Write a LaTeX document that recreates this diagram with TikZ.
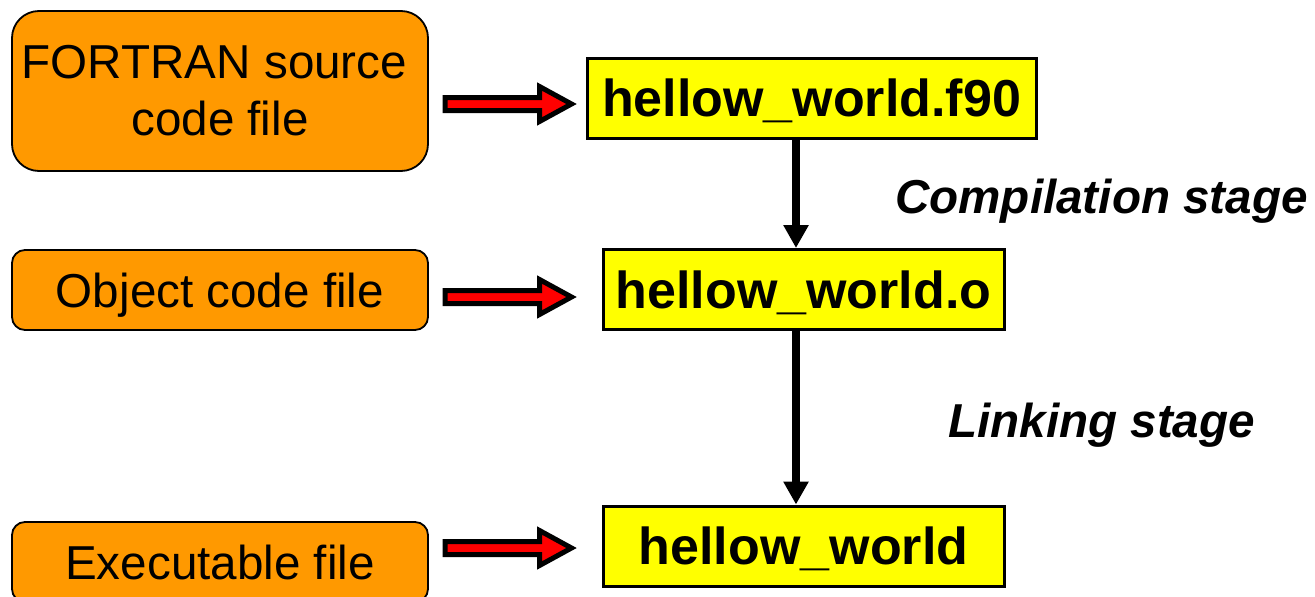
\documentclass[tikz,border=0pt]{standalone}
\usepackage{fontspec}
\setmainfont{Liberation Sans}
\usetikzlibrary{arrows.meta}

\definecolor{boxorange}{HTML}{FF9900}
\definecolor{fileyellow}{HTML}{FFFF00}
\definecolor{arrowred}{HTML}{FF0000}

\tikzset{
  kind/.style={draw=black, line width=1.8pt, fill=boxorange, rounded corners=#1,
    minimum width=416pt, inner sep=0pt, align=center,
    font=\fontsize{47.6}{57.1}\selectfont, text height=34pt, text depth=0pt},
  file/.style={draw=black, line width=3pt, fill=fileyellow, minimum height=80pt,
    inner sep=0pt, font=\bfseries\fontsize{52}{62}\selectfont,
    text height=37.2pt, text depth=0pt},
  flow/.style={draw=black, line width=8pt, -{Triangle[length=23pt, width=24pt]}},
  stage/.style={inner sep=0pt, anchor=base west,
    font=\bfseries\itshape\fontsize{47.6}{57.1}\selectfont},
  blockarrow/.style={draw=black, fill=arrowred, line width=5pt, line join=miter}
}

% hollow block arrow starting at a named point, pointing right
\newcommand\blockarrowfrom[1]{%
  \draw[blockarrow] (#1) ++(3,-6.5) -- ++(94.5,0) -- ++(0,-11) -- ++(32,17.5)
    -- ++(-32,17.5) -- ++(0,-11) -- ++(-94.5,0) -- cycle;}

\begin{document}
\begin{tikzpicture}[x=1pt, y=-1pt]
\useasboundingbox (0,0) rectangle (1315,597);

% kinds of file
\node[kind=27pt, minimum height=160pt, text height={}, text depth={}] (src) at (220,91)
  {FORTRAN source\kern11pt\\code file};
\node[kind=13pt, minimum height=80pt] (objkind) at (220,290) {Object code file};
\node[kind=13pt, minimum height=80pt] (exekind) at (220,562) {Executable file};

% the files themselves
\node[file, minimum width=449pt] (f90) at (811.5,98) {hellow\_world.f90};
\node[file, minimum width=401pt] (obj) at (803.5,289.5) {hellow\_world.o};
\node[file, minimum width=401pt] (exe) at (803.5,546) {hellow\_world};

% kind -> file pointers
\coordinate (p1) at (442,104);
\coordinate (p2) at (442,297);
\coordinate (p3) at (442,548);
\blockarrowfrom{p1}
\blockarrowfrom{p2}
\blockarrowfrom{p3}

% build stages
\coordinate (axis) at (796,0);
\draw[flow] (f90.south -| axis) -- (obj.north -| axis);
\draw[flow] (obj.south -| axis) -- (exe.north -| axis);

\node[stage] (comp) at (895,213) {Compilation stage};
\node[stage] (link) at (948,437) {Linking stage};
\end{tikzpicture}
\end{document}
